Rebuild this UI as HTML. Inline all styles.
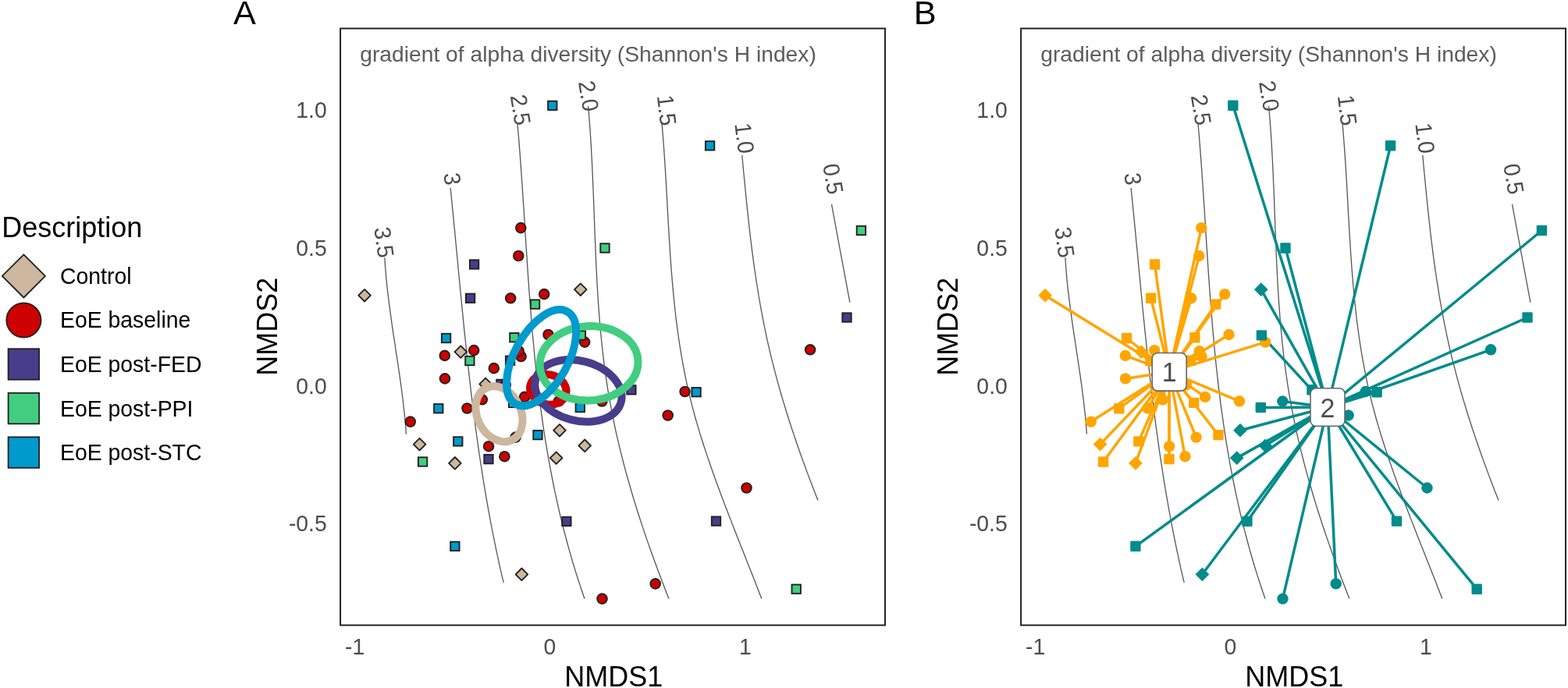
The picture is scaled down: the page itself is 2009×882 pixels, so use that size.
<!DOCTYPE html>
<html><head><meta charset="utf-8"><title>NMDS alpha diversity</title>
<style>html,body{margin:0;padding:0;background:#fff;}svg{display:block;}</style>
</head><body>
<svg width="2009" height="882" viewBox="0 0 2009 882" font-family='"Liberation Sans", Arial, Helvetica, sans-serif'>
<rect width="2009" height="882" fill="#fff"/>
<text transform="translate(298.90,31.20)" font-size="43.30" fill="#000">A</text>
<text transform="translate(1170.80,31.20)" font-size="43.30" fill="#000">B</text>
<text transform="translate(2.30,304.00) scale(1,1.010)" font-size="36.00" fill="#000">Description</text>
<path d="M30.4,326.3 L58.0,353.9 L30.4,381.5 L2.8,353.9 Z" fill="#CDB79E" stroke="#222222" stroke-width="1.8" stroke-linejoin="round"/>
<text transform="translate(77.00,363.90) scale(1,1.045)" font-size="28.40" fill="#000">Control</text>
<circle cx="30.4" cy="410.4" r="22.10" fill="#CD0000" stroke="#222222" stroke-width="1.8"/>
<text transform="translate(77.00,420.45) scale(1,1.045)" font-size="28.40" fill="#000">EoE baseline</text>
<rect x="10.6" y="447.2" width="39.5" height="39.5" fill="#483D8B" stroke="#222222" stroke-width="1.8"/>
<text transform="translate(77.00,477.00) scale(1,1.045)" font-size="28.40" fill="#000">EoE post-FED</text>
<rect x="10.6" y="503.8" width="39.5" height="39.5" fill="#43CD80" stroke="#222222" stroke-width="1.8"/>
<text transform="translate(77.00,533.55) scale(1,1.045)" font-size="28.40" fill="#000">EoE post-PPI</text>
<rect x="10.6" y="560.3" width="39.5" height="39.5" fill="#009ACD" stroke="#222222" stroke-width="1.8"/>
<text transform="translate(77.00,590.10) scale(1,1.045)" font-size="28.40" fill="#000">EoE post-STC</text>
<path d="M492.9,330.2 C493.0,331.2 493.1,334.1 493.2,336.0 C493.4,337.9 493.5,339.9 493.6,341.8 C493.8,343.7 493.9,345.7 494.1,347.6 C494.3,349.6 494.4,351.5 494.6,353.4 C494.8,355.4 494.9,357.3 495.1,359.2 C495.3,361.2 495.5,363.1 495.7,365.0 C495.9,367.0 496.1,368.9 496.3,370.8 C496.6,372.8 496.8,374.7 497.0,376.6 C497.2,378.6 497.5,380.5 497.7,382.4 C497.9,384.4 498.2,386.3 498.4,388.3 C498.7,390.2 498.9,392.1 499.2,394.1 C499.4,396.0 499.7,397.9 500.0,399.9 C500.2,401.8 500.5,403.7 500.8,405.7 C501.0,407.6 501.3,409.5 501.6,411.5 C501.8,413.4 502.1,415.3 502.4,417.3 C502.7,419.2 503.0,421.1 503.3,423.1 C503.5,425.0 503.8,427.0 504.1,428.9 C504.4,430.8 504.7,432.8 505.0,434.7 C505.3,436.6 505.6,438.6 505.9,440.5 C506.2,442.4 506.5,444.4 506.8,446.3 C507.1,448.2 507.3,450.2 507.6,452.1 C507.9,454.0 508.2,456.0 508.5,457.9 C508.8,459.8 509.1,461.8 509.4,463.7 C509.7,465.7 510.0,467.6 510.3,469.5 C510.5,471.5 510.8,473.4 511.1,475.3 C511.4,477.3 511.7,479.2 512.0,481.1 C512.2,483.1 512.5,485.0 512.8,486.9 C513.1,488.9 513.3,490.8 513.6,492.7 C513.9,494.7 514.1,496.6 514.4,498.5 C514.6,500.5 514.9,502.4 515.1,504.4 C515.4,506.3 515.6,508.2 515.9,510.2 C516.1,512.1 516.3,514.0 516.6,516.0 C516.8,517.9 517.0,519.8 517.2,521.8 C517.4,523.7 517.7,525.6 517.9,527.6 C518.1,529.5 518.3,531.4 518.5,533.4 C518.7,535.3 518.8,537.2 519.0,539.2 C519.2,541.1 519.4,543.1 519.5,545.0 C519.7,546.9 519.8,548.9 520.0,550.8 C520.1,552.7 520.3,555.6 520.4,556.6" fill="none" stroke="#555555" stroke-width="1.3"/>
<path d="M577.1,241.0 C577.3,243.2 578.0,249.6 578.4,254.0 C578.9,258.3 579.3,262.6 579.7,266.9 C580.2,271.3 580.6,275.6 581.0,279.9 C581.4,284.2 581.8,288.6 582.3,292.9 C582.7,297.2 583.1,301.5 583.5,305.8 C583.9,310.2 584.3,314.5 584.8,318.8 C585.2,323.1 585.6,327.5 586.0,331.8 C586.4,336.1 586.8,340.4 587.2,344.8 C587.6,349.1 588.0,353.4 588.5,357.7 C588.9,362.0 589.3,366.4 589.7,370.7 C590.1,375.0 590.5,379.3 591.0,383.7 C591.4,388.0 591.8,392.3 592.2,396.6 C592.7,401.0 593.1,405.3 593.5,409.6 C594.0,413.9 594.4,418.2 594.8,422.6 C595.3,426.9 595.7,431.2 596.2,435.5 C596.6,439.9 597.1,444.2 597.5,448.5 C598.0,452.8 598.5,457.2 598.9,461.5 C599.4,465.8 599.9,470.1 600.4,474.4 C600.8,478.8 601.3,483.1 601.8,487.4 C602.3,491.7 602.8,496.1 603.3,500.4 C603.9,504.7 604.4,509.0 604.9,513.4 C605.4,517.7 606.0,522.0 606.5,526.3 C607.1,530.6 607.6,535.0 608.2,539.3 C608.7,543.6 609.3,547.9 609.9,552.3 C610.5,556.6 611.1,560.9 611.7,565.2 C612.3,569.6 612.9,573.9 613.5,578.2 C614.2,582.5 614.8,586.8 615.5,591.2 C616.1,595.5 616.8,599.8 617.5,604.1 C618.1,608.5 618.8,612.8 619.5,617.1 C620.2,621.4 620.9,625.8 621.7,630.1 C622.4,634.4 623.1,638.7 623.9,643.0 C624.7,647.4 625.4,651.7 626.2,656.0 C627.0,660.3 627.8,664.7 628.6,669.0 C629.4,673.3 630.3,677.6 631.1,682.0 C632.0,686.3 632.8,690.6 633.7,694.9 C634.6,699.2 635.5,703.6 636.4,707.9 C637.3,712.2 638.3,716.5 639.2,720.9 C640.2,725.2 641.1,729.5 642.1,733.8 C643.1,738.2 644.7,744.6 645.2,746.8" fill="none" stroke="#555555" stroke-width="1.3"/>
<path d="M663.0,158.7 C663.2,161.3 663.9,169.1 664.4,174.3 C664.8,179.5 665.2,184.7 665.6,189.9 C666.0,195.1 666.4,200.3 666.8,205.5 C667.2,210.7 667.6,215.9 667.9,221.2 C668.3,226.4 668.6,231.6 669.0,236.8 C669.4,242.0 669.7,247.2 670.0,252.4 C670.4,257.6 670.7,262.8 671.1,268.0 C671.4,273.2 671.7,278.4 672.1,283.6 C672.4,288.8 672.7,294.0 673.0,299.2 C673.4,304.4 673.7,309.6 674.0,314.8 C674.4,320.0 674.7,325.2 675.1,330.4 C675.4,335.6 675.7,340.8 676.1,346.1 C676.4,351.3 676.8,356.5 677.2,361.7 C677.5,366.9 677.9,372.1 678.3,377.3 C678.7,382.5 679.1,387.7 679.5,392.9 C679.9,398.1 680.3,403.3 680.7,408.5 C681.1,413.7 681.6,418.9 682.0,424.1 C682.5,429.3 682.9,434.5 683.4,439.7 C683.9,444.9 684.4,450.1 684.9,455.3 C685.4,460.5 686.0,465.8 686.5,471.0 C687.1,476.2 687.6,481.4 688.2,486.6 C688.8,491.8 689.4,497.0 690.1,502.2 C690.7,507.4 691.4,512.6 692.0,517.8 C692.7,523.0 693.4,528.2 694.2,533.4 C694.9,538.6 695.6,543.8 696.4,549.0 C697.2,554.2 698.0,559.4 698.8,564.6 C699.7,569.8 700.5,575.0 701.4,580.2 C702.3,585.5 703.3,590.7 704.2,595.9 C705.2,601.1 706.1,606.3 707.2,611.5 C708.2,616.7 709.2,621.9 710.3,627.1 C711.4,632.3 712.5,637.5 713.7,642.7 C714.8,647.9 716.0,653.1 717.2,658.3 C718.5,663.5 719.7,668.7 721.0,673.9 C722.3,679.1 723.7,684.3 725.1,689.5 C726.4,694.7 727.9,699.9 729.3,705.1 C730.8,710.4 732.3,715.6 733.8,720.8 C735.4,726.0 737.0,731.2 738.6,736.4 C740.3,741.6 741.9,746.8 743.7,752.0 C745.4,757.2 748.1,765.0 749.0,767.6" fill="none" stroke="#555555" stroke-width="1.3"/>
<path d="M753.6,136.0 C753.8,138.7 754.5,146.8 755.0,152.2 C755.4,157.6 755.8,163.0 756.2,168.4 C756.5,173.8 756.9,179.2 757.2,184.6 C757.5,190.0 757.8,195.4 758.1,200.8 C758.4,206.2 758.7,211.6 758.9,217.0 C759.2,222.4 759.4,227.8 759.6,233.2 C759.9,238.6 760.1,244.0 760.3,249.4 C760.5,254.8 760.7,260.2 760.9,265.6 C761.1,271.0 761.3,276.4 761.5,281.8 C761.7,287.2 761.9,292.6 762.1,297.9 C762.3,303.3 762.5,308.7 762.8,314.1 C763.0,319.5 763.2,324.9 763.4,330.3 C763.7,335.7 763.9,341.1 764.2,346.5 C764.5,351.9 764.7,357.3 765.0,362.7 C765.3,368.1 765.6,373.5 766.0,378.9 C766.3,384.3 766.7,389.7 767.1,395.1 C767.5,400.5 767.9,405.9 768.3,411.3 C768.8,416.7 769.2,422.1 769.8,427.5 C770.3,432.9 770.8,438.3 771.4,443.7 C772.0,449.1 772.6,454.5 773.2,459.9 C773.9,465.3 774.6,470.7 775.3,476.1 C776.1,481.5 776.9,486.9 777.7,492.3 C778.5,497.7 779.4,503.1 780.3,508.5 C781.3,513.9 782.3,519.3 783.3,524.7 C784.3,530.1 785.4,535.5 786.5,540.9 C787.6,546.3 788.8,551.7 790.0,557.1 C791.2,562.5 792.5,567.9 793.8,573.3 C795.1,578.7 796.5,584.1 797.8,589.5 C799.2,594.9 800.7,600.3 802.1,605.7 C803.6,611.0 805.1,616.4 806.7,621.8 C808.2,627.2 809.8,632.6 811.4,638.0 C813.1,643.4 814.7,648.8 816.4,654.2 C818.1,659.6 819.9,665.0 821.6,670.4 C823.4,675.8 825.2,681.2 827.1,686.6 C828.9,692.0 830.8,697.4 832.7,702.8 C834.6,708.2 836.5,713.6 838.5,719.0 C840.5,724.4 842.5,729.8 844.5,735.2 C846.5,740.6 848.6,746.0 850.7,751.4 C852.7,756.8 855.9,764.9 857.0,767.6" fill="none" stroke="#555555" stroke-width="1.3"/>
<path d="M847.9,157.6 C848.2,160.2 848.9,168.0 849.3,173.2 C849.7,178.5 850.1,183.7 850.5,188.9 C850.9,194.1 851.2,199.3 851.6,204.5 C851.9,209.7 852.2,215.0 852.6,220.2 C852.9,225.4 853.2,230.6 853.5,235.8 C853.8,241.0 854.1,246.2 854.4,251.4 C854.7,256.7 855.0,261.9 855.2,267.1 C855.5,272.3 855.8,277.5 856.1,282.7 C856.4,287.9 856.7,293.2 857.0,298.4 C857.3,303.6 857.6,308.8 858.0,314.0 C858.3,319.2 858.6,324.4 859.0,329.7 C859.4,334.9 859.7,340.1 860.1,345.3 C860.5,350.5 861.0,355.7 861.4,360.9 C861.8,366.1 862.3,371.4 862.8,376.6 C863.3,381.8 863.8,387.0 864.4,392.2 C864.9,397.4 865.5,402.6 866.1,407.9 C866.8,413.1 867.4,418.3 868.1,423.5 C868.8,428.7 869.6,433.9 870.4,439.1 C871.2,444.4 872.0,449.6 872.9,454.8 C873.8,460.0 874.7,465.2 875.7,470.4 C876.7,475.6 877.7,480.8 878.8,486.1 C879.9,491.3 881.0,496.5 882.2,501.7 C883.4,506.9 884.7,512.1 886.0,517.3 C887.4,522.6 888.8,527.8 890.2,533.0 C891.6,538.2 893.2,543.4 894.7,548.6 C896.2,553.8 897.9,559.1 899.5,564.3 C901.1,569.5 902.8,574.7 904.6,579.9 C906.3,585.1 908.1,590.3 909.9,595.5 C911.7,600.8 913.5,606.0 915.4,611.2 C917.3,616.4 919.2,621.6 921.1,626.8 C923.0,632.0 925.0,637.3 926.9,642.5 C928.9,647.7 930.9,652.9 932.9,658.1 C934.9,663.3 937.0,668.5 939.0,673.8 C941.0,679.0 943.1,684.2 945.1,689.4 C947.2,694.6 949.3,699.8 951.3,705.0 C953.4,710.2 955.4,715.5 957.5,720.7 C959.6,725.9 961.6,731.1 963.7,736.3 C965.7,741.5 967.8,746.7 969.8,752.0 C971.8,757.2 974.8,765.0 975.8,767.6" fill="none" stroke="#555555" stroke-width="1.3"/>
<path d="M950.8,199.0 C951.0,200.9 951.5,206.6 951.8,210.3 C952.2,214.1 952.5,217.9 952.9,221.7 C953.3,225.5 953.6,229.2 954.0,233.0 C954.3,236.8 954.7,240.6 955.1,244.4 C955.5,248.2 955.8,251.9 956.2,255.7 C956.6,259.5 957.0,263.3 957.4,267.1 C957.8,270.8 958.2,274.6 958.6,278.4 C959.0,282.2 959.4,286.0 959.8,289.7 C960.3,293.5 960.7,297.3 961.1,301.1 C961.6,304.9 962.0,308.7 962.5,312.4 C963.0,316.2 963.4,320.0 963.9,323.8 C964.4,327.6 964.9,331.3 965.4,335.1 C966.0,338.9 966.5,342.7 967.0,346.5 C967.6,350.2 968.1,354.0 968.7,357.8 C969.3,361.6 969.9,365.4 970.5,369.2 C971.1,372.9 971.7,376.7 972.3,380.5 C973.0,384.3 973.6,388.1 974.3,391.8 C975.0,395.6 975.6,399.4 976.4,403.2 C977.1,407.0 977.8,410.7 978.6,414.5 C979.3,418.3 980.1,422.1 980.9,425.9 C981.7,429.7 982.5,433.4 983.3,437.2 C984.2,441.0 985.0,444.8 985.9,448.6 C986.8,452.3 987.7,456.1 988.6,459.9 C989.6,463.7 990.5,467.5 991.5,471.2 C992.5,475.0 993.5,478.8 994.5,482.6 C995.5,486.4 996.5,490.2 997.6,493.9 C998.6,497.7 999.7,501.5 1000.8,505.3 C1001.9,509.1 1003.0,512.8 1004.2,516.6 C1005.3,520.4 1006.5,524.2 1007.6,528.0 C1008.8,531.7 1010.0,535.5 1011.2,539.3 C1012.4,543.1 1013.7,546.9 1014.9,550.7 C1016.2,554.4 1017.4,558.2 1018.7,562.0 C1020.0,565.8 1021.3,569.6 1022.6,573.3 C1023.9,577.1 1025.3,580.9 1026.6,584.7 C1028.0,588.5 1029.3,592.2 1030.7,596.0 C1032.1,599.8 1033.5,603.6 1034.9,607.4 C1036.3,611.2 1037.7,614.9 1039.2,618.7 C1040.6,622.5 1042.1,626.3 1043.5,630.1 C1045.0,633.8 1047.2,639.5 1048.0,641.4" fill="none" stroke="#555555" stroke-width="1.3"/>
<path d="M1065.5,261.9 C1067.3,271.8 1072.6,300.4 1076.5,321.4 C1080.4,342.3 1086.8,376.6 1088.9,387.6" fill="none" stroke="#555555" stroke-width="1.3"/>
<text transform="translate(492.00,310.70) rotate(82.00) scale(1,1.045)" font-size="28.40" fill="#4d4d4d" text-anchor="middle" dominant-baseline="central">3.5</text>
<text transform="translate(579.50,229.40) rotate(84.00) scale(1,1.045)" font-size="28.40" fill="#4d4d4d" text-anchor="middle" dominant-baseline="central">3</text>
<text transform="translate(666.90,140.80) rotate(81.00) scale(1,1.045)" font-size="28.40" fill="#4d4d4d" text-anchor="middle" dominant-baseline="central">2.5</text>
<text transform="translate(754.30,123.10) rotate(81.00) scale(1,1.045)" font-size="28.40" fill="#4d4d4d" text-anchor="middle" dominant-baseline="central">2.0</text>
<text transform="translate(854.20,141.40) rotate(83.00) scale(1,1.045)" font-size="28.40" fill="#4d4d4d" text-anchor="middle" dominant-baseline="central">1.5</text>
<text transform="translate(953.80,177.00) rotate(83.00) scale(1,1.045)" font-size="28.40" fill="#4d4d4d" text-anchor="middle" dominant-baseline="central">1.0</text>
<text transform="translate(1067.40,229.30) rotate(80.00) scale(1,1.045)" font-size="28.40" fill="#4d4d4d" text-anchor="middle" dominant-baseline="central">0.5</text>
<path stroke-linejoin="round"  d="M467.1,370.9 L474.9,378.7 L467.1,386.5 L459.3,378.7 Z" fill="#CDB79E" stroke="#222222" stroke-width="1.90"/>
<path stroke-linejoin="round"  d="M743.8,363.4 L751.6,371.2 L743.8,379.0 L736.0,371.2 Z" fill="#CDB79E" stroke="#222222" stroke-width="1.90"/>
<path stroke-linejoin="round"  d="M590.3,443.3 L598.1,451.1 L590.3,458.9 L582.5,451.1 Z" fill="#CDB79E" stroke="#222222" stroke-width="1.90"/>
<path stroke-linejoin="round"  d="M622.1,484.6 L629.9,492.4 L622.1,500.2 L614.3,492.4 Z" fill="#CDB79E" stroke="#222222" stroke-width="1.90"/>
<path stroke-linejoin="round"  d="M717.0,543.9 L724.8,551.7 L717.0,559.5 L709.2,551.7 Z" fill="#CDB79E" stroke="#222222" stroke-width="1.90"/>
<path stroke-linejoin="round"  d="M537.6,561.8 L545.4,569.6 L537.6,577.4 L529.8,569.6 Z" fill="#CDB79E" stroke="#222222" stroke-width="1.90"/>
<path stroke-linejoin="round"  d="M749.2,563.5 L757.0,571.3 L749.2,579.1 L741.4,571.3 Z" fill="#CDB79E" stroke="#222222" stroke-width="1.90"/>
<path stroke-linejoin="round"  d="M712.7,579.3 L720.5,587.1 L712.7,594.9 L704.9,587.1 Z" fill="#CDB79E" stroke="#222222" stroke-width="1.90"/>
<path stroke-linejoin="round"  d="M582.9,586.0 L590.7,593.8 L582.9,601.6 L575.1,593.8 Z" fill="#CDB79E" stroke="#222222" stroke-width="1.90"/>
<path stroke-linejoin="round"  d="M668.4,728.5 L676.2,736.3 L668.4,744.1 L660.6,736.3 Z" fill="#CDB79E" stroke="#222222" stroke-width="1.90"/>
<circle cx="667.3" cy="292.1" r="6.35" fill="#CD0000" stroke="#222222" stroke-width="1.90"/>
<circle cx="664.3" cy="328.0" r="6.35" fill="#CD0000" stroke="#222222" stroke-width="1.90"/>
<circle cx="654.2" cy="382.3" r="6.35" fill="#CD0000" stroke="#222222" stroke-width="1.90"/>
<circle cx="697.2" cy="377.1" r="6.35" fill="#CD0000" stroke="#222222" stroke-width="1.90"/>
<circle cx="702.5" cy="429.0" r="6.35" fill="#CD0000" stroke="#222222" stroke-width="1.90"/>
<circle cx="749.2" cy="438.6" r="6.35" fill="#CD0000" stroke="#222222" stroke-width="1.90"/>
<circle cx="607.2" cy="449.1" r="6.35" fill="#CD0000" stroke="#222222" stroke-width="1.90"/>
<circle cx="569.8" cy="455.9" r="6.35" fill="#CD0000" stroke="#222222" stroke-width="1.90"/>
<circle cx="667.6" cy="457.0" r="6.35" fill="#CD0000" stroke="#222222" stroke-width="1.90"/>
<circle cx="664.8" cy="450.2" r="6.35" fill="#CD0000" stroke="#222222" stroke-width="1.90"/>
<circle cx="632.8" cy="472.1" r="6.35" fill="#CD0000" stroke="#222222" stroke-width="1.90"/>
<circle cx="570.0" cy="485.4" r="6.35" fill="#CD0000" stroke="#222222" stroke-width="1.90"/>
<circle cx="617.8" cy="512.3" r="6.35" fill="#CD0000" stroke="#222222" stroke-width="1.90"/>
<circle cx="672.1" cy="508.9" r="6.35" fill="#CD0000" stroke="#222222" stroke-width="1.90"/>
<circle cx="598.5" cy="523.5" r="6.35" fill="#CD0000" stroke="#222222" stroke-width="1.90"/>
<circle cx="525.8" cy="540.6" r="6.35" fill="#CD0000" stroke="#222222" stroke-width="1.90"/>
<circle cx="771.3" cy="514.5" r="6.35" fill="#CD0000" stroke="#222222" stroke-width="1.90"/>
<circle cx="660.6" cy="560.6" r="6.35" fill="#CD0000" stroke="#222222" stroke-width="1.90"/>
<circle cx="626.1" cy="572.2" r="6.35" fill="#CD0000" stroke="#222222" stroke-width="1.90"/>
<circle cx="646.4" cy="585.2" r="6.35" fill="#CD0000" stroke="#222222" stroke-width="1.90"/>
<circle cx="877.6" cy="502.0" r="6.35" fill="#CD0000" stroke="#222222" stroke-width="1.90"/>
<circle cx="855.7" cy="532.5" r="6.35" fill="#CD0000" stroke="#222222" stroke-width="1.90"/>
<circle cx="1038.1" cy="448.3" r="6.35" fill="#CD0000" stroke="#222222" stroke-width="1.90"/>
<circle cx="771.5" cy="767.6" r="6.35" fill="#CD0000" stroke="#222222" stroke-width="1.90"/>
<circle cx="956.5" cy="625.5" r="6.35" fill="#CD0000" stroke="#222222" stroke-width="1.90"/>
<circle cx="839.7" cy="748.4" r="6.35" fill="#CD0000" stroke="#222222" stroke-width="1.90"/>
<circle cx="716.0" cy="514.3" r="6.35" fill="#CD0000" stroke="#222222" stroke-width="1.90"/>
<rect x="601.9" y="333.3" width="11.40" height="11.40" fill="#483D8B" stroke="#222222" stroke-width="1.90"/>
<rect x="596.9" y="376.6" width="11.40" height="11.40" fill="#483D8B" stroke="#222222" stroke-width="1.90"/>
<rect x="1079.3" y="401.3" width="11.40" height="11.40" fill="#483D8B" stroke="#222222" stroke-width="1.90"/>
<rect x="647.9" y="456.5" width="11.40" height="11.40" fill="#483D8B" stroke="#222222" stroke-width="1.90"/>
<rect x="636.2" y="486.7" width="11.40" height="11.40" fill="#483D8B" stroke="#222222" stroke-width="1.90"/>
<rect x="620.3" y="582.9" width="11.40" height="11.40" fill="#483D8B" stroke="#222222" stroke-width="1.90"/>
<rect x="803.2" y="494.1" width="11.40" height="11.40" fill="#483D8B" stroke="#222222" stroke-width="1.90"/>
<rect x="720.2" y="662.7" width="11.40" height="11.40" fill="#483D8B" stroke="#222222" stroke-width="1.90"/>
<rect x="911.8" y="662.4" width="11.40" height="11.40" fill="#483D8B" stroke="#222222" stroke-width="1.90"/>
<rect x="679.9" y="384.4" width="11.40" height="11.40" fill="#43CD80" stroke="#222222" stroke-width="1.90"/>
<rect x="769.3" y="312.3" width="11.40" height="11.40" fill="#43CD80" stroke="#222222" stroke-width="1.90"/>
<rect x="1097.7" y="289.8" width="11.40" height="11.40" fill="#43CD80" stroke="#222222" stroke-width="1.90"/>
<rect x="653.2" y="427.0" width="11.40" height="11.40" fill="#43CD80" stroke="#222222" stroke-width="1.90"/>
<rect x="738.7" y="424.2" width="11.40" height="11.40" fill="#43CD80" stroke="#222222" stroke-width="1.90"/>
<rect x="596.2" y="456.8" width="11.40" height="11.40" fill="#43CD80" stroke="#222222" stroke-width="1.90"/>
<rect x="652.0" y="510.7" width="11.40" height="11.40" fill="#43CD80" stroke="#222222" stroke-width="1.90"/>
<rect x="535.9" y="586.3" width="11.40" height="11.40" fill="#43CD80" stroke="#222222" stroke-width="1.90"/>
<rect x="1014.5" y="749.5" width="11.40" height="11.40" fill="#43CD80" stroke="#222222" stroke-width="1.90"/>
<rect x="702.1" y="129.6" width="11.40" height="11.40" fill="#009ACD" stroke="#222222" stroke-width="1.90"/>
<rect x="903.9" y="181.1" width="11.40" height="11.40" fill="#009ACD" stroke="#222222" stroke-width="1.90"/>
<rect x="565.9" y="427.8" width="11.40" height="11.40" fill="#009ACD" stroke="#222222" stroke-width="1.90"/>
<rect x="556.1" y="518.0" width="11.40" height="11.40" fill="#009ACD" stroke="#222222" stroke-width="1.90"/>
<rect x="737.6" y="516.7" width="11.40" height="11.40" fill="#009ACD" stroke="#222222" stroke-width="1.90"/>
<rect x="683.3" y="551.9" width="11.40" height="11.40" fill="#009ACD" stroke="#222222" stroke-width="1.90"/>
<rect x="581.1" y="560.2" width="11.40" height="11.40" fill="#009ACD" stroke="#222222" stroke-width="1.90"/>
<rect x="886.4" y="497.0" width="11.40" height="11.40" fill="#009ACD" stroke="#222222" stroke-width="1.90"/>
<rect x="577.2" y="694.6" width="11.40" height="11.40" fill="#009ACD" stroke="#222222" stroke-width="1.90"/>
<circle cx="647.8" cy="493.4" r="6.35" fill="#CD0000" stroke="#222222" stroke-width="1.90"/>
<ellipse cx="0" cy="0" rx="37.20" ry="27.90" transform="translate(639.5,530.7) rotate(63.3)" fill="none" stroke="#CDB79E" stroke-width="10"/>
<ellipse cx="0" cy="0" rx="23.50" ry="19.00" transform="translate(702.3,499.3) rotate(15.0)" fill="none" stroke="#CD0000" stroke-width="10"/>
<ellipse cx="0" cy="0" rx="56.60" ry="38.30" transform="translate(741.0,500.9) rotate(15.0)" fill="none" stroke="#483D8B" stroke-width="10"/>
<ellipse cx="0" cy="0" rx="62.95" ry="47.60" transform="translate(754.6,465.8) rotate(-3.7)" fill="none" stroke="#43CD80" stroke-width="10"/>
<ellipse cx="0" cy="0" rx="67.90" ry="34.20" transform="translate(693.6,458.6) rotate(-60.9)" fill="none" stroke="#009ACD" stroke-width="10"/>
<text transform="translate(461.20,78.90) scale(1,0.965)" font-size="28.25" fill="#5c5c5c">gradient of alpha diversity (Shannon&#39;s H index)</text>
<rect x="436.1" y="36.5" width="697.9" height="765" fill="none" stroke="#1a1a1a" stroke-width="1.9"/>
<text transform="translate(418.80,151.00) scale(1,1.045)" font-size="28.40" fill="#4d4d4d" text-anchor="end">1.0</text>
<text transform="translate(418.80,327.70) scale(1,1.045)" font-size="28.40" fill="#4d4d4d" text-anchor="end">0.5</text>
<text transform="translate(418.80,505.30) scale(1,1.045)" font-size="28.40" fill="#4d4d4d" text-anchor="end">0.0</text>
<text transform="translate(418.80,681.00) scale(1,1.045)" font-size="28.40" fill="#4d4d4d" text-anchor="end">-0.5</text>
<text transform="translate(454.60,839.20) scale(1,1.045)" font-size="28.40" fill="#4d4d4d" text-anchor="middle">-1</text>
<text transform="translate(704.30,839.20) scale(1,1.045)" font-size="28.40" fill="#4d4d4d" text-anchor="middle">0</text>
<text transform="translate(954.80,839.20) scale(1,1.045)" font-size="28.40" fill="#4d4d4d" text-anchor="middle">1</text>
<text transform="translate(786.30,879.80) scale(1,1.010)" font-size="36.00" fill="#000" text-anchor="middle">NMDS1</text>
<text transform="translate(354.50,418.80) rotate(-90.00) scale(1,1.010)" font-size="36.00" fill="#000" text-anchor="middle">NMDS2</text>
<path d="M1364.9,330.2 C1365.0,331.2 1365.1,334.1 1365.2,336.0 C1365.4,337.9 1365.5,339.9 1365.6,341.8 C1365.8,343.7 1365.9,345.7 1366.1,347.6 C1366.3,349.6 1366.4,351.5 1366.6,353.4 C1366.8,355.4 1366.9,357.3 1367.1,359.2 C1367.3,361.2 1367.5,363.1 1367.7,365.0 C1367.9,367.0 1368.1,368.9 1368.3,370.8 C1368.6,372.8 1368.8,374.7 1369.0,376.6 C1369.2,378.6 1369.5,380.5 1369.7,382.4 C1369.9,384.4 1370.2,386.3 1370.4,388.3 C1370.7,390.2 1370.9,392.1 1371.2,394.1 C1371.4,396.0 1371.7,397.9 1372.0,399.9 C1372.2,401.8 1372.5,403.7 1372.8,405.7 C1373.0,407.6 1373.3,409.5 1373.6,411.5 C1373.8,413.4 1374.1,415.3 1374.4,417.3 C1374.7,419.2 1375.0,421.1 1375.3,423.1 C1375.5,425.0 1375.8,427.0 1376.1,428.9 C1376.4,430.8 1376.7,432.8 1377.0,434.7 C1377.3,436.6 1377.6,438.6 1377.9,440.5 C1378.2,442.4 1378.5,444.4 1378.8,446.3 C1379.1,448.2 1379.3,450.2 1379.6,452.1 C1379.9,454.0 1380.2,456.0 1380.5,457.9 C1380.8,459.8 1381.1,461.8 1381.4,463.7 C1381.7,465.7 1382.0,467.6 1382.3,469.5 C1382.5,471.5 1382.8,473.4 1383.1,475.3 C1383.4,477.3 1383.7,479.2 1384.0,481.1 C1384.2,483.1 1384.5,485.0 1384.8,486.9 C1385.1,488.9 1385.3,490.8 1385.6,492.7 C1385.9,494.7 1386.1,496.6 1386.4,498.5 C1386.6,500.5 1386.9,502.4 1387.1,504.4 C1387.4,506.3 1387.6,508.2 1387.9,510.2 C1388.1,512.1 1388.3,514.0 1388.6,516.0 C1388.8,517.9 1389.0,519.8 1389.2,521.8 C1389.4,523.7 1389.7,525.6 1389.9,527.6 C1390.1,529.5 1390.3,531.4 1390.5,533.4 C1390.7,535.3 1390.8,537.2 1391.0,539.2 C1391.2,541.1 1391.4,543.1 1391.5,545.0 C1391.7,546.9 1391.8,548.9 1392.0,550.8 C1392.1,552.7 1392.3,555.6 1392.4,556.6" fill="none" stroke="#555555" stroke-width="1.3"/>
<path d="M1449.1,241.0 C1449.3,243.2 1450.0,249.6 1450.4,254.0 C1450.9,258.3 1451.3,262.6 1451.7,266.9 C1452.2,271.3 1452.6,275.6 1453.0,279.9 C1453.4,284.2 1453.8,288.6 1454.3,292.9 C1454.7,297.2 1455.1,301.5 1455.5,305.8 C1455.9,310.2 1456.3,314.5 1456.8,318.8 C1457.2,323.1 1457.6,327.5 1458.0,331.8 C1458.4,336.1 1458.8,340.4 1459.2,344.8 C1459.6,349.1 1460.0,353.4 1460.5,357.7 C1460.9,362.0 1461.3,366.4 1461.7,370.7 C1462.1,375.0 1462.5,379.3 1463.0,383.7 C1463.4,388.0 1463.8,392.3 1464.2,396.6 C1464.7,401.0 1465.1,405.3 1465.5,409.6 C1466.0,413.9 1466.4,418.2 1466.8,422.6 C1467.3,426.9 1467.7,431.2 1468.2,435.5 C1468.6,439.9 1469.1,444.2 1469.5,448.5 C1470.0,452.8 1470.5,457.2 1470.9,461.5 C1471.4,465.8 1471.9,470.1 1472.4,474.4 C1472.8,478.8 1473.3,483.1 1473.8,487.4 C1474.3,491.7 1474.8,496.1 1475.3,500.4 C1475.9,504.7 1476.4,509.0 1476.9,513.4 C1477.4,517.7 1478.0,522.0 1478.5,526.3 C1479.1,530.6 1479.6,535.0 1480.2,539.3 C1480.7,543.6 1481.3,547.9 1481.9,552.3 C1482.5,556.6 1483.1,560.9 1483.7,565.2 C1484.3,569.6 1484.9,573.9 1485.5,578.2 C1486.2,582.5 1486.8,586.8 1487.5,591.2 C1488.1,595.5 1488.8,599.8 1489.5,604.1 C1490.1,608.5 1490.8,612.8 1491.5,617.1 C1492.2,621.4 1492.9,625.8 1493.7,630.1 C1494.4,634.4 1495.1,638.7 1495.9,643.0 C1496.7,647.4 1497.4,651.7 1498.2,656.0 C1499.0,660.3 1499.8,664.7 1500.6,669.0 C1501.4,673.3 1502.3,677.6 1503.1,682.0 C1504.0,686.3 1504.8,690.6 1505.7,694.9 C1506.6,699.2 1507.5,703.6 1508.4,707.9 C1509.3,712.2 1510.3,716.5 1511.2,720.9 C1512.2,725.2 1513.1,729.5 1514.1,733.8 C1515.1,738.2 1516.7,744.6 1517.2,746.8" fill="none" stroke="#555555" stroke-width="1.3"/>
<path d="M1535.0,158.7 C1535.2,161.3 1535.9,169.1 1536.4,174.3 C1536.8,179.5 1537.2,184.7 1537.6,189.9 C1538.0,195.1 1538.4,200.3 1538.8,205.5 C1539.2,210.7 1539.6,215.9 1539.9,221.2 C1540.3,226.4 1540.6,231.6 1541.0,236.8 C1541.4,242.0 1541.7,247.2 1542.0,252.4 C1542.4,257.6 1542.7,262.8 1543.1,268.0 C1543.4,273.2 1543.7,278.4 1544.1,283.6 C1544.4,288.8 1544.7,294.0 1545.0,299.2 C1545.4,304.4 1545.7,309.6 1546.0,314.8 C1546.4,320.0 1546.7,325.2 1547.1,330.4 C1547.4,335.6 1547.7,340.8 1548.1,346.1 C1548.4,351.3 1548.8,356.5 1549.2,361.7 C1549.5,366.9 1549.9,372.1 1550.3,377.3 C1550.7,382.5 1551.1,387.7 1551.5,392.9 C1551.9,398.1 1552.3,403.3 1552.7,408.5 C1553.1,413.7 1553.6,418.9 1554.0,424.1 C1554.5,429.3 1554.9,434.5 1555.4,439.7 C1555.9,444.9 1556.4,450.1 1556.9,455.3 C1557.4,460.5 1558.0,465.8 1558.5,471.0 C1559.1,476.2 1559.6,481.4 1560.2,486.6 C1560.8,491.8 1561.4,497.0 1562.1,502.2 C1562.7,507.4 1563.4,512.6 1564.0,517.8 C1564.7,523.0 1565.4,528.2 1566.2,533.4 C1566.9,538.6 1567.6,543.8 1568.4,549.0 C1569.2,554.2 1570.0,559.4 1570.8,564.6 C1571.7,569.8 1572.5,575.0 1573.4,580.2 C1574.3,585.5 1575.3,590.7 1576.2,595.9 C1577.2,601.1 1578.1,606.3 1579.2,611.5 C1580.2,616.7 1581.2,621.9 1582.3,627.1 C1583.4,632.3 1584.5,637.5 1585.7,642.7 C1586.8,647.9 1588.0,653.1 1589.2,658.3 C1590.5,663.5 1591.7,668.7 1593.0,673.9 C1594.3,679.1 1595.7,684.3 1597.1,689.5 C1598.4,694.7 1599.9,699.9 1601.3,705.1 C1602.8,710.4 1604.3,715.6 1605.8,720.8 C1607.4,726.0 1609.0,731.2 1610.6,736.4 C1612.3,741.6 1613.9,746.8 1615.7,752.0 C1617.4,757.2 1620.1,765.0 1621.0,767.6" fill="none" stroke="#555555" stroke-width="1.3"/>
<path d="M1625.6,136.0 C1625.8,138.7 1626.5,146.8 1627.0,152.2 C1627.4,157.6 1627.8,163.0 1628.2,168.4 C1628.5,173.8 1628.9,179.2 1629.2,184.6 C1629.5,190.0 1629.8,195.4 1630.1,200.8 C1630.4,206.2 1630.7,211.6 1630.9,217.0 C1631.2,222.4 1631.4,227.8 1631.6,233.2 C1631.9,238.6 1632.1,244.0 1632.3,249.4 C1632.5,254.8 1632.7,260.2 1632.9,265.6 C1633.1,271.0 1633.3,276.4 1633.5,281.8 C1633.7,287.2 1633.9,292.6 1634.1,297.9 C1634.3,303.3 1634.5,308.7 1634.8,314.1 C1635.0,319.5 1635.2,324.9 1635.4,330.3 C1635.7,335.7 1635.9,341.1 1636.2,346.5 C1636.5,351.9 1636.7,357.3 1637.0,362.7 C1637.3,368.1 1637.6,373.5 1638.0,378.9 C1638.3,384.3 1638.7,389.7 1639.1,395.1 C1639.5,400.5 1639.9,405.9 1640.3,411.3 C1640.8,416.7 1641.2,422.1 1641.8,427.5 C1642.3,432.9 1642.8,438.3 1643.4,443.7 C1644.0,449.1 1644.6,454.5 1645.2,459.9 C1645.9,465.3 1646.6,470.7 1647.3,476.1 C1648.1,481.5 1648.9,486.9 1649.7,492.3 C1650.5,497.7 1651.4,503.1 1652.3,508.5 C1653.3,513.9 1654.3,519.3 1655.3,524.7 C1656.3,530.1 1657.4,535.5 1658.5,540.9 C1659.6,546.3 1660.8,551.7 1662.0,557.1 C1663.2,562.5 1664.5,567.9 1665.8,573.3 C1667.1,578.7 1668.5,584.1 1669.8,589.5 C1671.2,594.9 1672.7,600.3 1674.1,605.7 C1675.6,611.0 1677.1,616.4 1678.7,621.8 C1680.2,627.2 1681.8,632.6 1683.4,638.0 C1685.1,643.4 1686.7,648.8 1688.4,654.2 C1690.1,659.6 1691.9,665.0 1693.6,670.4 C1695.4,675.8 1697.2,681.2 1699.1,686.6 C1700.9,692.0 1702.8,697.4 1704.7,702.8 C1706.6,708.2 1708.5,713.6 1710.5,719.0 C1712.5,724.4 1714.5,729.8 1716.5,735.2 C1718.5,740.6 1720.6,746.0 1722.7,751.4 C1724.7,756.8 1727.9,764.9 1729.0,767.6" fill="none" stroke="#555555" stroke-width="1.3"/>
<path d="M1719.9,157.6 C1720.2,160.2 1720.9,168.0 1721.3,173.2 C1721.7,178.5 1722.1,183.7 1722.5,188.9 C1722.9,194.1 1723.2,199.3 1723.6,204.5 C1723.9,209.7 1724.2,215.0 1724.6,220.2 C1724.9,225.4 1725.2,230.6 1725.5,235.8 C1725.8,241.0 1726.1,246.2 1726.4,251.4 C1726.7,256.7 1727.0,261.9 1727.2,267.1 C1727.5,272.3 1727.8,277.5 1728.1,282.7 C1728.4,287.9 1728.7,293.2 1729.0,298.4 C1729.3,303.6 1729.6,308.8 1730.0,314.0 C1730.3,319.2 1730.6,324.4 1731.0,329.7 C1731.4,334.9 1731.7,340.1 1732.1,345.3 C1732.5,350.5 1733.0,355.7 1733.4,360.9 C1733.8,366.1 1734.3,371.4 1734.8,376.6 C1735.3,381.8 1735.8,387.0 1736.4,392.2 C1736.9,397.4 1737.5,402.6 1738.1,407.9 C1738.8,413.1 1739.4,418.3 1740.1,423.5 C1740.8,428.7 1741.6,433.9 1742.4,439.1 C1743.2,444.4 1744.0,449.6 1744.9,454.8 C1745.8,460.0 1746.7,465.2 1747.7,470.4 C1748.7,475.6 1749.7,480.8 1750.8,486.1 C1751.9,491.3 1753.0,496.5 1754.2,501.7 C1755.4,506.9 1756.7,512.1 1758.0,517.3 C1759.4,522.6 1760.8,527.8 1762.2,533.0 C1763.6,538.2 1765.2,543.4 1766.7,548.6 C1768.2,553.8 1769.9,559.1 1771.5,564.3 C1773.1,569.5 1774.8,574.7 1776.6,579.9 C1778.3,585.1 1780.1,590.3 1781.9,595.5 C1783.7,600.8 1785.5,606.0 1787.4,611.2 C1789.3,616.4 1791.2,621.6 1793.1,626.8 C1795.0,632.0 1797.0,637.3 1798.9,642.5 C1800.9,647.7 1802.9,652.9 1804.9,658.1 C1806.9,663.3 1809.0,668.5 1811.0,673.8 C1813.0,679.0 1815.1,684.2 1817.1,689.4 C1819.2,694.6 1821.3,699.8 1823.3,705.0 C1825.4,710.2 1827.4,715.5 1829.5,720.7 C1831.6,725.9 1833.6,731.1 1835.7,736.3 C1837.7,741.5 1839.8,746.7 1841.8,752.0 C1843.8,757.2 1846.8,765.0 1847.8,767.6" fill="none" stroke="#555555" stroke-width="1.3"/>
<path d="M1822.8,199.0 C1823.0,200.9 1823.5,206.6 1823.8,210.3 C1824.2,214.1 1824.5,217.9 1824.9,221.7 C1825.3,225.5 1825.6,229.2 1826.0,233.0 C1826.3,236.8 1826.7,240.6 1827.1,244.4 C1827.5,248.2 1827.8,251.9 1828.2,255.7 C1828.6,259.5 1829.0,263.3 1829.4,267.1 C1829.8,270.8 1830.2,274.6 1830.6,278.4 C1831.0,282.2 1831.4,286.0 1831.8,289.7 C1832.3,293.5 1832.7,297.3 1833.1,301.1 C1833.6,304.9 1834.0,308.7 1834.5,312.4 C1835.0,316.2 1835.4,320.0 1835.9,323.8 C1836.4,327.6 1836.9,331.3 1837.4,335.1 C1838.0,338.9 1838.5,342.7 1839.0,346.5 C1839.6,350.2 1840.1,354.0 1840.7,357.8 C1841.3,361.6 1841.9,365.4 1842.5,369.2 C1843.1,372.9 1843.7,376.7 1844.3,380.5 C1845.0,384.3 1845.6,388.1 1846.3,391.8 C1847.0,395.6 1847.6,399.4 1848.4,403.2 C1849.1,407.0 1849.8,410.7 1850.6,414.5 C1851.3,418.3 1852.1,422.1 1852.9,425.9 C1853.7,429.7 1854.5,433.4 1855.3,437.2 C1856.2,441.0 1857.0,444.8 1857.9,448.6 C1858.8,452.3 1859.7,456.1 1860.6,459.9 C1861.6,463.7 1862.5,467.5 1863.5,471.2 C1864.5,475.0 1865.5,478.8 1866.5,482.6 C1867.5,486.4 1868.5,490.2 1869.6,493.9 C1870.6,497.7 1871.7,501.5 1872.8,505.3 C1873.9,509.1 1875.0,512.8 1876.2,516.6 C1877.3,520.4 1878.5,524.2 1879.6,528.0 C1880.8,531.7 1882.0,535.5 1883.2,539.3 C1884.4,543.1 1885.7,546.9 1886.9,550.7 C1888.2,554.4 1889.4,558.2 1890.7,562.0 C1892.0,565.8 1893.3,569.6 1894.6,573.3 C1895.9,577.1 1897.3,580.9 1898.6,584.7 C1900.0,588.5 1901.3,592.2 1902.7,596.0 C1904.1,599.8 1905.5,603.6 1906.9,607.4 C1908.3,611.2 1909.7,614.9 1911.2,618.7 C1912.6,622.5 1914.1,626.3 1915.5,630.1 C1917.0,633.8 1919.2,639.5 1920.0,641.4" fill="none" stroke="#555555" stroke-width="1.3"/>
<path d="M1937.5,261.9 C1939.3,271.8 1944.6,300.4 1948.5,321.4 C1952.4,342.3 1958.8,376.6 1960.9,387.6" fill="none" stroke="#555555" stroke-width="1.3"/>
<text transform="translate(1364.00,310.70) rotate(82.00) scale(1,1.045)" font-size="28.40" fill="#4d4d4d" text-anchor="middle" dominant-baseline="central">3.5</text>
<text transform="translate(1451.50,229.40) rotate(84.00) scale(1,1.045)" font-size="28.40" fill="#4d4d4d" text-anchor="middle" dominant-baseline="central">3</text>
<text transform="translate(1538.90,140.80) rotate(81.00) scale(1,1.045)" font-size="28.40" fill="#4d4d4d" text-anchor="middle" dominant-baseline="central">2.5</text>
<text transform="translate(1626.30,123.10) rotate(81.00) scale(1,1.045)" font-size="28.40" fill="#4d4d4d" text-anchor="middle" dominant-baseline="central">2.0</text>
<text transform="translate(1726.20,141.40) rotate(83.00) scale(1,1.045)" font-size="28.40" fill="#4d4d4d" text-anchor="middle" dominant-baseline="central">1.5</text>
<text transform="translate(1825.80,177.00) rotate(83.00) scale(1,1.045)" font-size="28.40" fill="#4d4d4d" text-anchor="middle" dominant-baseline="central">1.0</text>
<text transform="translate(1939.40,229.30) rotate(80.00) scale(1,1.045)" font-size="28.40" fill="#4d4d4d" text-anchor="middle" dominant-baseline="central">0.5</text>
<line x1="1339.1" y1="378.7" x2="1498.2" y2="476.8" stroke="#FFA500" stroke-width="3.5"/>
<line x1="1539.3" y1="292.1" x2="1498.2" y2="476.8" stroke="#FFA500" stroke-width="3.5"/>
<line x1="1536.3" y1="328.0" x2="1498.2" y2="476.8" stroke="#FFA500" stroke-width="3.5"/>
<line x1="1479.6" y1="339.0" x2="1498.2" y2="476.8" stroke="#FFA500" stroke-width="3.5"/>
<line x1="1474.6" y1="382.3" x2="1498.2" y2="476.8" stroke="#FFA500" stroke-width="3.5"/>
<line x1="1526.2" y1="382.3" x2="1498.2" y2="476.8" stroke="#FFA500" stroke-width="3.5"/>
<line x1="1569.2" y1="377.1" x2="1498.2" y2="476.8" stroke="#FFA500" stroke-width="3.5"/>
<line x1="1557.6" y1="390.1" x2="1498.2" y2="476.8" stroke="#FFA500" stroke-width="3.5"/>
<line x1="1443.6" y1="433.5" x2="1498.2" y2="476.8" stroke="#FFA500" stroke-width="3.5"/>
<line x1="1530.9" y1="432.7" x2="1498.2" y2="476.8" stroke="#FFA500" stroke-width="3.5"/>
<line x1="1574.5" y1="429.0" x2="1498.2" y2="476.8" stroke="#FFA500" stroke-width="3.5"/>
<line x1="1621.2" y1="438.6" x2="1498.2" y2="476.8" stroke="#FFA500" stroke-width="3.5"/>
<line x1="1462.3" y1="451.1" x2="1498.2" y2="476.8" stroke="#FFA500" stroke-width="3.5"/>
<line x1="1479.2" y1="449.1" x2="1498.2" y2="476.8" stroke="#FFA500" stroke-width="3.5"/>
<line x1="1441.8" y1="455.9" x2="1498.2" y2="476.8" stroke="#FFA500" stroke-width="3.5"/>
<line x1="1473.9" y1="462.5" x2="1498.2" y2="476.8" stroke="#FFA500" stroke-width="3.5"/>
<line x1="1539.6" y1="457.0" x2="1498.2" y2="476.8" stroke="#FFA500" stroke-width="3.5"/>
<line x1="1536.8" y1="450.2" x2="1498.2" y2="476.8" stroke="#FFA500" stroke-width="3.5"/>
<line x1="1525.6" y1="462.2" x2="1498.2" y2="476.8" stroke="#FFA500" stroke-width="3.5"/>
<line x1="1504.8" y1="472.1" x2="1498.2" y2="476.8" stroke="#FFA500" stroke-width="3.5"/>
<line x1="1442.0" y1="485.4" x2="1498.2" y2="476.8" stroke="#FFA500" stroke-width="3.5"/>
<line x1="1494.1" y1="492.4" x2="1498.2" y2="476.8" stroke="#FFA500" stroke-width="3.5"/>
<line x1="1513.9" y1="492.4" x2="1498.2" y2="476.8" stroke="#FFA500" stroke-width="3.5"/>
<line x1="1489.8" y1="512.3" x2="1498.2" y2="476.8" stroke="#FFA500" stroke-width="3.5"/>
<line x1="1544.1" y1="508.9" x2="1498.2" y2="476.8" stroke="#FFA500" stroke-width="3.5"/>
<line x1="1529.7" y1="516.4" x2="1498.2" y2="476.8" stroke="#FFA500" stroke-width="3.5"/>
<line x1="1433.8" y1="523.7" x2="1498.2" y2="476.8" stroke="#FFA500" stroke-width="3.5"/>
<line x1="1470.5" y1="523.5" x2="1498.2" y2="476.8" stroke="#FFA500" stroke-width="3.5"/>
<line x1="1397.8" y1="540.6" x2="1498.2" y2="476.8" stroke="#FFA500" stroke-width="3.5"/>
<line x1="1532.6" y1="560.6" x2="1498.2" y2="476.8" stroke="#FFA500" stroke-width="3.5"/>
<line x1="1561.0" y1="557.6" x2="1498.2" y2="476.8" stroke="#FFA500" stroke-width="3.5"/>
<line x1="1409.6" y1="569.6" x2="1498.2" y2="476.8" stroke="#FFA500" stroke-width="3.5"/>
<line x1="1458.8" y1="565.9" x2="1498.2" y2="476.8" stroke="#FFA500" stroke-width="3.5"/>
<line x1="1498.1" y1="572.2" x2="1498.2" y2="476.8" stroke="#FFA500" stroke-width="3.5"/>
<line x1="1518.4" y1="585.2" x2="1498.2" y2="476.8" stroke="#FFA500" stroke-width="3.5"/>
<line x1="1498.0" y1="588.6" x2="1498.2" y2="476.8" stroke="#FFA500" stroke-width="3.5"/>
<line x1="1413.6" y1="592.0" x2="1498.2" y2="476.8" stroke="#FFA500" stroke-width="3.5"/>
<line x1="1454.9" y1="593.8" x2="1498.2" y2="476.8" stroke="#FFA500" stroke-width="3.5"/>
<line x1="1588.0" y1="514.3" x2="1498.2" y2="476.8" stroke="#FFA500" stroke-width="3.5"/>
<line x1="1519.8" y1="493.4" x2="1498.2" y2="476.8" stroke="#FFA500" stroke-width="3.5"/>
<line x1="1579.8" y1="135.3" x2="1701.0" y2="522.0" stroke="#008B8B" stroke-width="3.5"/>
<line x1="1781.6" y1="186.8" x2="1701.0" y2="522.0" stroke="#008B8B" stroke-width="3.5"/>
<line x1="1615.8" y1="371.2" x2="1701.0" y2="522.0" stroke="#008B8B" stroke-width="3.5"/>
<line x1="1647.0" y1="318.0" x2="1701.0" y2="522.0" stroke="#008B8B" stroke-width="3.5"/>
<line x1="1975.4" y1="295.5" x2="1701.0" y2="522.0" stroke="#008B8B" stroke-width="3.5"/>
<line x1="1957.0" y1="407.0" x2="1701.0" y2="522.0" stroke="#008B8B" stroke-width="3.5"/>
<line x1="1616.4" y1="429.9" x2="1701.0" y2="522.0" stroke="#008B8B" stroke-width="3.5"/>
<line x1="1615.3" y1="522.4" x2="1701.0" y2="522.0" stroke="#008B8B" stroke-width="3.5"/>
<line x1="1643.3" y1="514.5" x2="1701.0" y2="522.0" stroke="#008B8B" stroke-width="3.5"/>
<line x1="1589.0" y1="551.7" x2="1701.0" y2="522.0" stroke="#008B8B" stroke-width="3.5"/>
<line x1="1621.2" y1="571.3" x2="1701.0" y2="522.0" stroke="#008B8B" stroke-width="3.5"/>
<line x1="1584.7" y1="587.1" x2="1701.0" y2="522.0" stroke="#008B8B" stroke-width="3.5"/>
<line x1="1680.9" y1="499.8" x2="1701.0" y2="522.0" stroke="#008B8B" stroke-width="3.5"/>
<line x1="1749.6" y1="502.0" x2="1701.0" y2="522.0" stroke="#008B8B" stroke-width="3.5"/>
<line x1="1764.1" y1="502.7" x2="1701.0" y2="522.0" stroke="#008B8B" stroke-width="3.5"/>
<line x1="1727.7" y1="532.5" x2="1701.0" y2="522.0" stroke="#008B8B" stroke-width="3.5"/>
<line x1="1910.1" y1="448.3" x2="1701.0" y2="522.0" stroke="#008B8B" stroke-width="3.5"/>
<line x1="1454.9" y1="700.3" x2="1701.0" y2="522.0" stroke="#008B8B" stroke-width="3.5"/>
<line x1="1597.9" y1="668.4" x2="1701.0" y2="522.0" stroke="#008B8B" stroke-width="3.5"/>
<line x1="1540.4" y1="736.3" x2="1701.0" y2="522.0" stroke="#008B8B" stroke-width="3.5"/>
<line x1="1643.5" y1="767.6" x2="1701.0" y2="522.0" stroke="#008B8B" stroke-width="3.5"/>
<line x1="1828.5" y1="625.5" x2="1701.0" y2="522.0" stroke="#008B8B" stroke-width="3.5"/>
<line x1="1789.5" y1="668.1" x2="1701.0" y2="522.0" stroke="#008B8B" stroke-width="3.5"/>
<line x1="1711.7" y1="748.4" x2="1701.0" y2="522.0" stroke="#008B8B" stroke-width="3.5"/>
<line x1="1892.2" y1="755.2" x2="1701.0" y2="522.0" stroke="#008B8B" stroke-width="3.5"/>
<path stroke-linejoin="round"  d="M1339.1,369.8 L1348.0,378.7 L1339.1,387.6 L1330.2,378.7 Z" fill="#FFA500"/>
<path stroke-linejoin="round"  d="M1615.8,362.3 L1624.7,371.2 L1615.8,380.1 L1606.9,371.2 Z" fill="#008B8B"/>
<path stroke-linejoin="round"  d="M1462.3,442.2 L1471.2,451.1 L1462.3,460.0 L1453.4,451.1 Z" fill="#FFA500"/>
<path stroke-linejoin="round"  d="M1494.1,483.5 L1503.0,492.4 L1494.1,501.3 L1485.2,492.4 Z" fill="#FFA500"/>
<path stroke-linejoin="round"  d="M1589.0,542.8 L1597.9,551.7 L1589.0,560.6 L1580.1,551.7 Z" fill="#008B8B"/>
<path stroke-linejoin="round"  d="M1409.6,560.7 L1418.5,569.6 L1409.6,578.5 L1400.7,569.6 Z" fill="#FFA500"/>
<path stroke-linejoin="round"  d="M1621.2,562.4 L1630.1,571.3 L1621.2,580.2 L1612.3,571.3 Z" fill="#008B8B"/>
<path stroke-linejoin="round"  d="M1584.7,578.2 L1593.6,587.1 L1584.7,596.0 L1575.8,587.1 Z" fill="#008B8B"/>
<path stroke-linejoin="round"  d="M1454.9,584.9 L1463.8,593.8 L1454.9,602.7 L1446.0,593.8 Z" fill="#FFA500"/>
<path stroke-linejoin="round"  d="M1540.4,727.4 L1549.3,736.3 L1540.4,745.2 L1531.5,736.3 Z" fill="#008B8B"/>
<circle cx="1539.3" cy="292.1" r="7.20" fill="#FFA500"/>
<circle cx="1536.3" cy="328.0" r="7.20" fill="#FFA500"/>
<circle cx="1526.2" cy="382.3" r="7.20" fill="#FFA500"/>
<circle cx="1569.2" cy="377.1" r="7.20" fill="#FFA500"/>
<circle cx="1574.5" cy="429.0" r="7.20" fill="#FFA500"/>
<circle cx="1621.2" cy="438.6" r="7.20" fill="#FFA500"/>
<circle cx="1479.2" cy="449.1" r="7.20" fill="#FFA500"/>
<circle cx="1441.8" cy="455.9" r="7.20" fill="#FFA500"/>
<circle cx="1539.6" cy="457.0" r="7.20" fill="#FFA500"/>
<circle cx="1536.8" cy="450.2" r="7.20" fill="#FFA500"/>
<circle cx="1504.8" cy="472.1" r="7.20" fill="#FFA500"/>
<circle cx="1442.0" cy="485.4" r="7.20" fill="#FFA500"/>
<circle cx="1489.8" cy="512.3" r="7.20" fill="#FFA500"/>
<circle cx="1544.1" cy="508.9" r="7.20" fill="#FFA500"/>
<circle cx="1470.5" cy="523.5" r="7.20" fill="#FFA500"/>
<circle cx="1397.8" cy="540.6" r="7.20" fill="#FFA500"/>
<circle cx="1643.3" cy="514.5" r="7.20" fill="#008B8B"/>
<circle cx="1532.6" cy="560.6" r="7.20" fill="#FFA500"/>
<circle cx="1498.1" cy="572.2" r="7.20" fill="#FFA500"/>
<circle cx="1518.4" cy="585.2" r="7.20" fill="#FFA500"/>
<circle cx="1749.6" cy="502.0" r="7.20" fill="#008B8B"/>
<circle cx="1727.7" cy="532.5" r="7.20" fill="#008B8B"/>
<circle cx="1910.1" cy="448.3" r="7.20" fill="#008B8B"/>
<circle cx="1643.5" cy="767.6" r="7.20" fill="#008B8B"/>
<circle cx="1828.5" cy="625.5" r="7.20" fill="#008B8B"/>
<circle cx="1711.7" cy="748.4" r="7.20" fill="#008B8B"/>
<circle cx="1588.0" cy="514.3" r="7.20" fill="#FFA500"/>
<rect x="1472.9" y="332.3" width="13.40" height="13.40" fill="#FFA500" rx="1.3"/>
<rect x="1467.9" y="375.6" width="13.40" height="13.40" fill="#FFA500" rx="1.3"/>
<rect x="1950.3" y="400.3" width="13.40" height="13.40" fill="#008B8B" rx="1.3"/>
<rect x="1518.9" y="455.5" width="13.40" height="13.40" fill="#FFA500" rx="1.3"/>
<rect x="1507.2" y="485.7" width="13.40" height="13.40" fill="#FFA500" rx="1.3"/>
<rect x="1491.3" y="581.9" width="13.40" height="13.40" fill="#FFA500" rx="1.3"/>
<rect x="1674.2" y="493.1" width="13.40" height="13.40" fill="#008B8B" rx="1.3"/>
<rect x="1591.2" y="661.7" width="13.40" height="13.40" fill="#008B8B" rx="1.3"/>
<rect x="1782.8" y="661.4" width="13.40" height="13.40" fill="#008B8B" rx="1.3"/>
<rect x="1550.9" y="383.4" width="13.40" height="13.40" fill="#FFA500" rx="1.3"/>
<rect x="1640.3" y="311.3" width="13.40" height="13.40" fill="#008B8B" rx="1.3"/>
<rect x="1968.7" y="288.8" width="13.40" height="13.40" fill="#008B8B" rx="1.3"/>
<rect x="1524.2" y="426.0" width="13.40" height="13.40" fill="#FFA500" rx="1.3"/>
<rect x="1609.7" y="423.2" width="13.40" height="13.40" fill="#008B8B" rx="1.3"/>
<rect x="1467.2" y="455.8" width="13.40" height="13.40" fill="#FFA500" rx="1.3"/>
<rect x="1523.0" y="509.7" width="13.40" height="13.40" fill="#FFA500" rx="1.3"/>
<rect x="1406.9" y="585.3" width="13.40" height="13.40" fill="#FFA500" rx="1.3"/>
<rect x="1885.5" y="748.5" width="13.40" height="13.40" fill="#008B8B" rx="1.3"/>
<rect x="1573.1" y="128.6" width="13.40" height="13.40" fill="#008B8B" rx="1.3"/>
<rect x="1774.9" y="180.1" width="13.40" height="13.40" fill="#008B8B" rx="1.3"/>
<rect x="1436.9" y="426.8" width="13.40" height="13.40" fill="#FFA500" rx="1.3"/>
<rect x="1427.1" y="517.0" width="13.40" height="13.40" fill="#FFA500" rx="1.3"/>
<rect x="1608.6" y="515.7" width="13.40" height="13.40" fill="#008B8B" rx="1.3"/>
<rect x="1554.3" y="550.9" width="13.40" height="13.40" fill="#FFA500" rx="1.3"/>
<rect x="1452.1" y="559.2" width="13.40" height="13.40" fill="#FFA500" rx="1.3"/>
<rect x="1757.4" y="496.0" width="13.40" height="13.40" fill="#008B8B" rx="1.3"/>
<rect x="1448.2" y="693.6" width="13.40" height="13.40" fill="#008B8B" rx="1.3"/>
<circle cx="1519.8" cy="493.4" r="7.20" fill="#FFA500"/>
<rect x="1476.2" y="452.5" width="44" height="48.6" rx="7" ry="7" fill="#fff" stroke="#666" stroke-width="1.6"/>
<text transform="translate(1498.20,489.40) scale(1,1.030)" font-size="34.00" fill="#4d4d4d" text-anchor="middle">1</text>
<rect x="1679.0" y="497.7" width="44" height="48.6" rx="7" ry="7" fill="#fff" stroke="#666" stroke-width="1.6"/>
<text transform="translate(1701.00,534.60) scale(1,1.030)" font-size="34.00" fill="#4d4d4d" text-anchor="middle">2</text>
<text transform="translate(1333.20,78.90) scale(1,0.965)" font-size="28.25" fill="#5c5c5c">gradient of alpha diversity (Shannon&#39;s H index)</text>
<rect x="1308.1" y="36.5" width="697.9" height="765" fill="none" stroke="#1a1a1a" stroke-width="1.9"/>
<text transform="translate(1290.80,151.00) scale(1,1.045)" font-size="28.40" fill="#4d4d4d" text-anchor="end">1.0</text>
<text transform="translate(1290.80,327.70) scale(1,1.045)" font-size="28.40" fill="#4d4d4d" text-anchor="end">0.5</text>
<text transform="translate(1290.80,505.30) scale(1,1.045)" font-size="28.40" fill="#4d4d4d" text-anchor="end">0.0</text>
<text transform="translate(1290.80,681.00) scale(1,1.045)" font-size="28.40" fill="#4d4d4d" text-anchor="end">-0.5</text>
<text transform="translate(1326.60,839.20) scale(1,1.045)" font-size="28.40" fill="#4d4d4d" text-anchor="middle">-1</text>
<text transform="translate(1576.30,839.20) scale(1,1.045)" font-size="28.40" fill="#4d4d4d" text-anchor="middle">0</text>
<text transform="translate(1826.80,839.20) scale(1,1.045)" font-size="28.40" fill="#4d4d4d" text-anchor="middle">1</text>
<text transform="translate(1658.30,879.80) scale(1,1.010)" font-size="36.00" fill="#000" text-anchor="middle">NMDS1</text>
<text transform="translate(1226.50,418.80) rotate(-90.00) scale(1,1.010)" font-size="36.00" fill="#000" text-anchor="middle">NMDS2</text>
</svg>
</body></html>
